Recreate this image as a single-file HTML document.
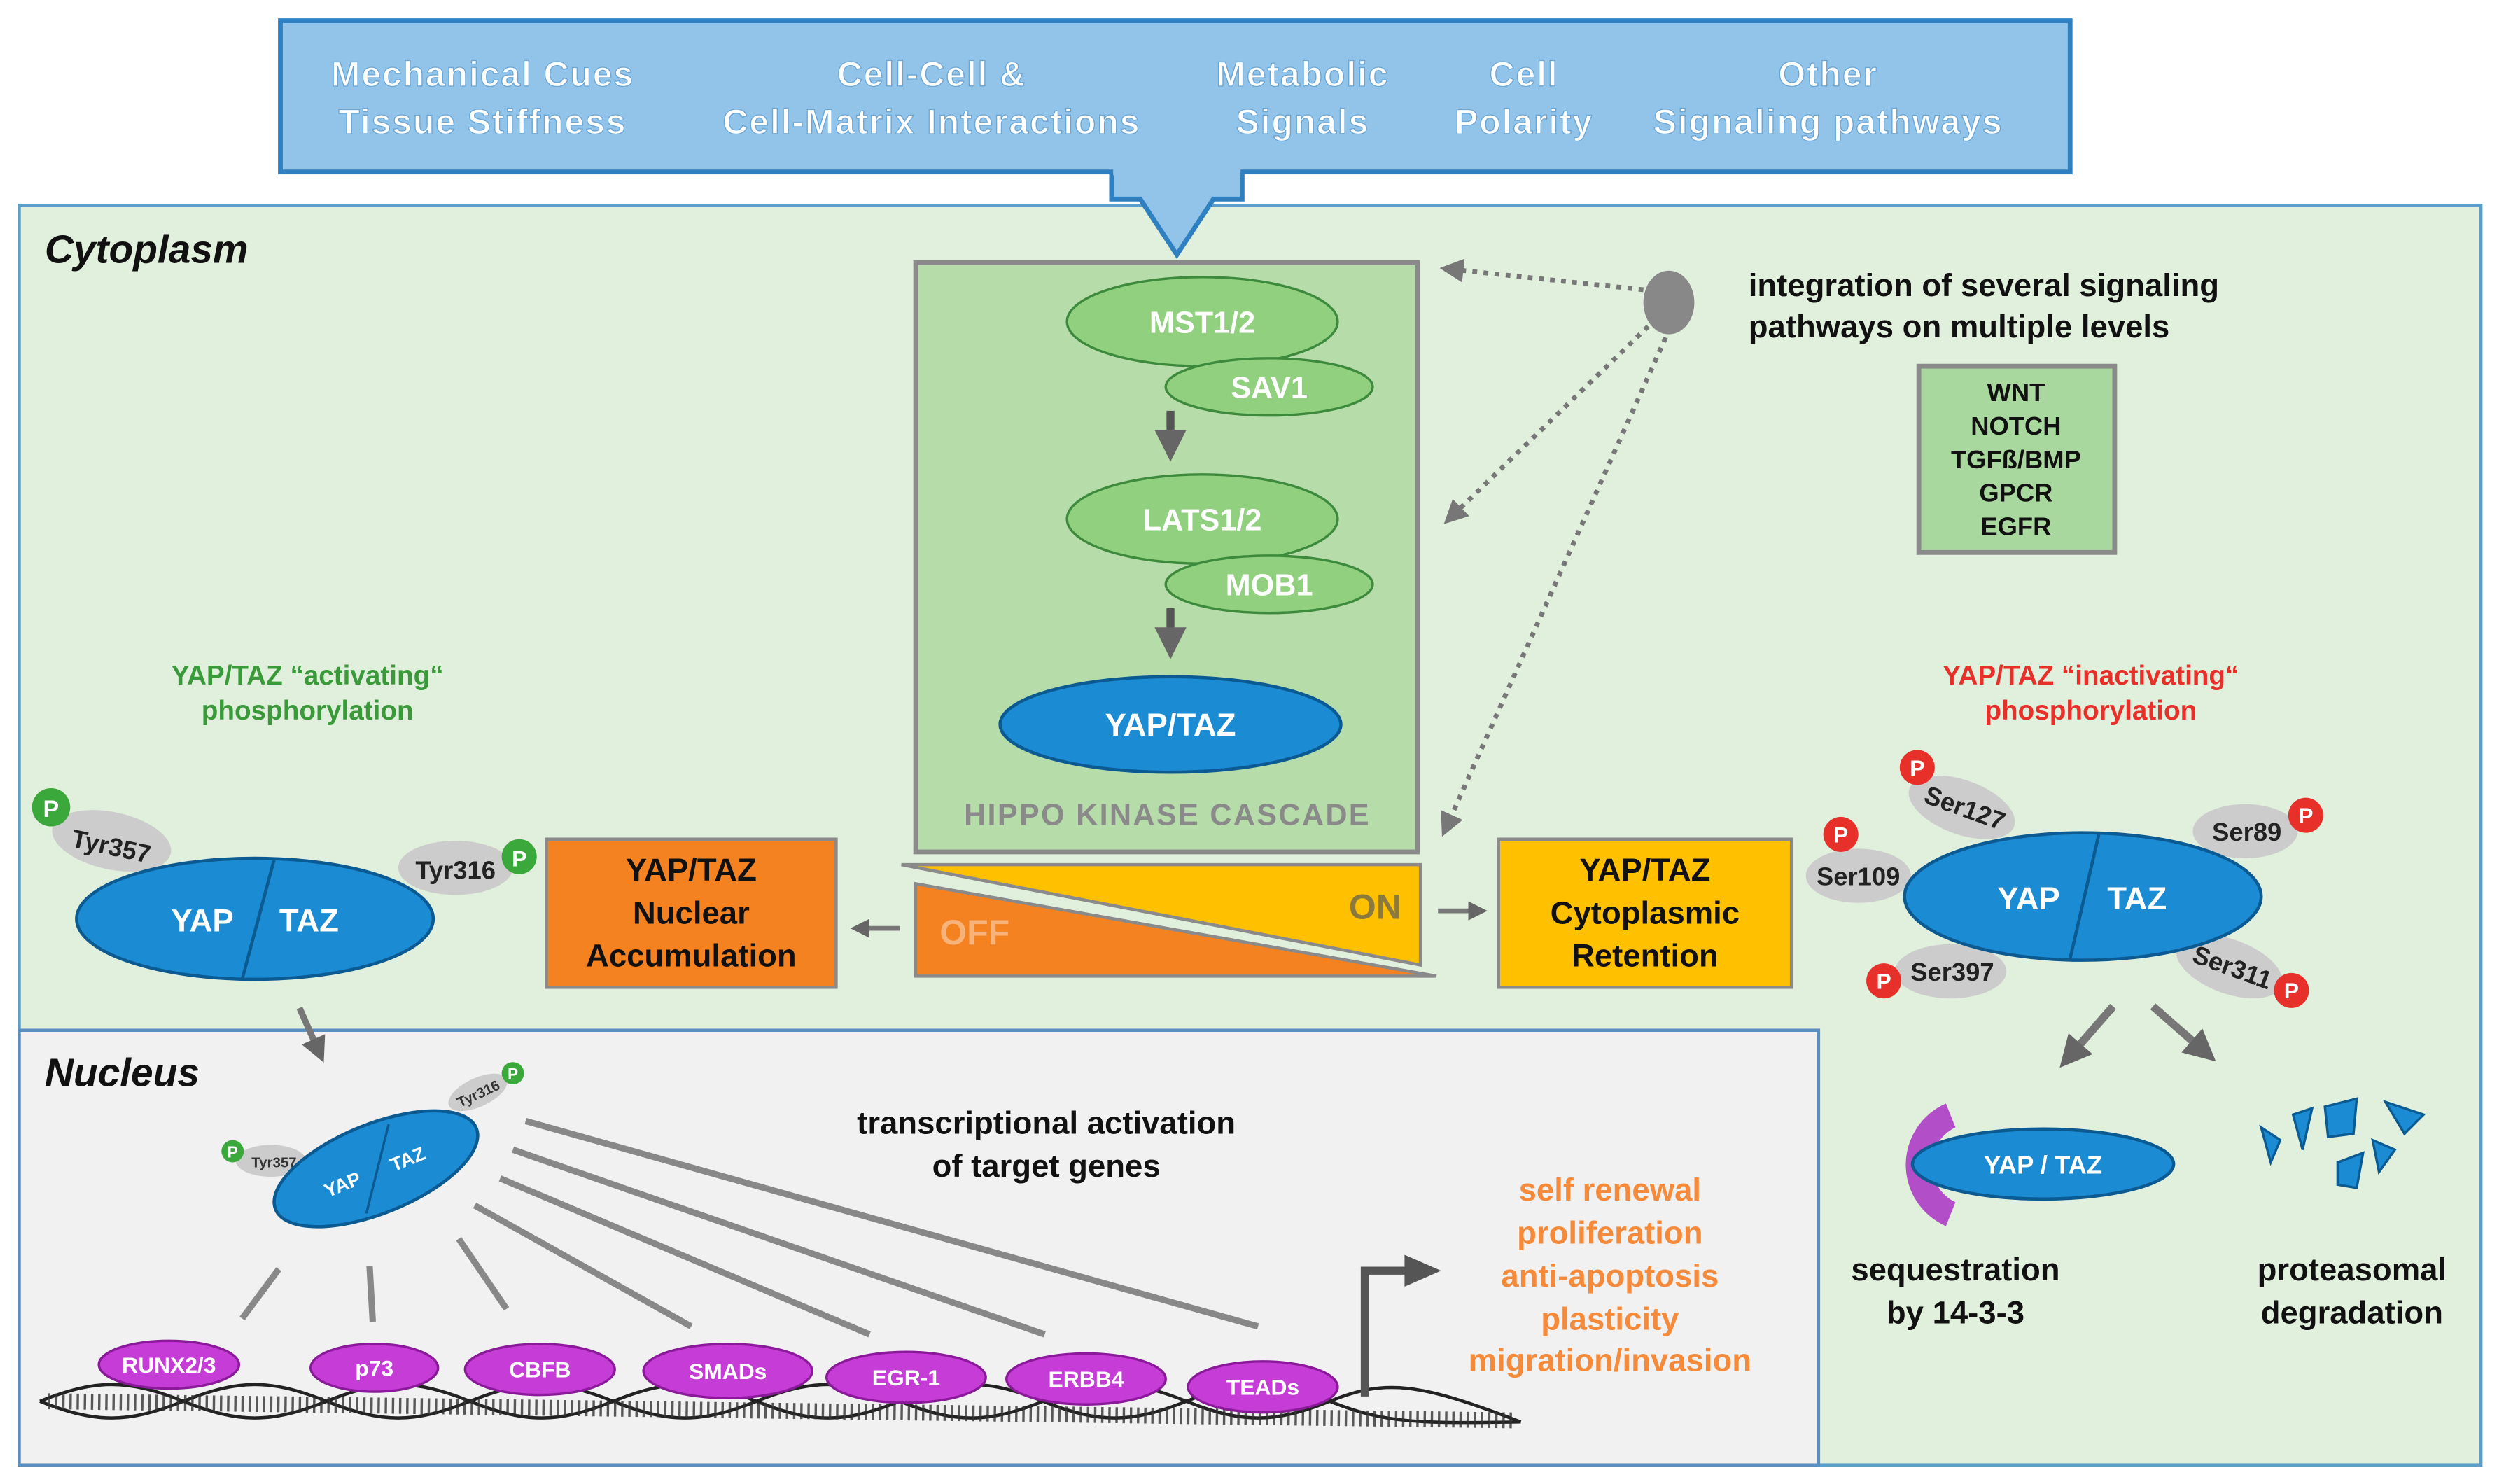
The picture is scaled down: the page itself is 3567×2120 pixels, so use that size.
<!DOCTYPE html>
<html><head><meta charset="utf-8"><style>
html,body{margin:0;padding:0;background:#fff}
svg{display:block}
text{font-family:"Liberation Sans",Arial,sans-serif;font-weight:bold}
</style></head><body>
<svg width="3567" height="2120" viewBox="0 0 1568 932" xmlns="http://www.w3.org/2000/svg">
<defs>
<marker id="ag" markerWidth="4" markerHeight="4" refX="2" refY="2" orient="auto"><path d="M0,0 L4,2 L0,4 z" fill="#666"/></marker>
<marker id="ad" markerWidth="5" markerHeight="5" refX="3" refY="2.5" orient="auto"><path d="M0,0 L5,2.5 L0,5 z" fill="#777"/></marker>
</defs>
<rect x="12" y="129" width="1546" height="791" fill="#e1f0dc" stroke="#5b9ec9" stroke-width="2"/>
<rect x="12" y="647" width="1130" height="273" fill="#f1f1f1" stroke="#5b8fc2" stroke-width="2"/>
<rect x="176" y="13" width="1124" height="95" fill="#92c4ea" stroke="#2f80c0" stroke-width="3"/>
<path d="M698,108 L698,125 L716,125 L739,160 L762,125 L780,125 L780,108" fill="#92c4ea" stroke="#2f80c0" stroke-width="3"/>
<rect x="699" y="104" width="80" height="6" fill="#92c4ea"/>
<g fill="#fff" font-size="22" text-anchor="middle" letter-spacing="0.8" stroke="#6aa6d6" stroke-width="0.6">
<text x="303" y="54">Mechanical Cues</text><text x="303" y="84">Tissue Stiffness</text>
<text x="585" y="54">Cell-Cell &amp;</text><text x="585" y="84">Cell-Matrix Interactions</text>
<text x="818" y="54">Metabolic</text><text x="818" y="84">Signals</text>
<text x="957" y="54">Cell</text><text x="957" y="84">Polarity</text>
<text x="1148" y="54">Other</text><text x="1148" y="84">Signaling pathways</text>
</g>
<text x="28" y="165" font-size="25" font-style="italic" fill="#111">Cytoplasm</text>
<text x="28" y="682" font-size="25" font-style="italic" fill="#111">Nucleus</text>
<rect x="575" y="165" width="315" height="370" fill="#b6dcaa" stroke="#8a8a8a" stroke-width="3"/>
<g stroke="#3d8a3d" stroke-width="1.5" fill="#90d07f">
<ellipse cx="755" cy="202" rx="85" ry="28"/><ellipse cx="797" cy="243" rx="65" ry="18"/>
<ellipse cx="755" cy="326" rx="85" ry="28"/><ellipse cx="797" cy="367" rx="65" ry="18"/>
</g>
<g fill="#fff" font-size="19" text-anchor="middle">
<text x="755" y="209">MST1/2</text><text x="797" y="250">SAV1</text>
<text x="755" y="333">LATS1/2</text><text x="797" y="374">MOB1</text>
</g>
<path d="M735,258 L735,280" stroke="#555" stroke-width="5" marker-end="url(#ag)"/>
<path d="M735,382 L735,404" stroke="#555" stroke-width="5" marker-end="url(#ag)"/>
<ellipse cx="735" cy="455" rx="107" ry="30" fill="#1b8bd3" stroke="#0b5a92" stroke-width="2"/>
<text x="735" y="462" fill="#fff" font-size="20" text-anchor="middle">YAP/TAZ</text>
<text x="733" y="518" fill="#8a8a8a" font-size="19" text-anchor="middle" letter-spacing="1">HIPPO KINASE CASCADE</text>
<ellipse cx="1048" cy="190" rx="16" ry="20" fill="#888"/>
<g stroke="#777" stroke-width="3" stroke-dasharray="3,4" fill="none" marker-end="url(#ad)">
<path d="M1032,182 L910,169"/><path d="M1035,205 L911,325"/><path d="M1046,212 L908,520"/>
</g>
<text x="1098" y="186" font-size="20" fill="#111">integration of several signaling</text>
<text x="1098" y="212" font-size="20" fill="#111">pathways on multiple levels</text>
<rect x="1205" y="230" width="123" height="117" fill="#a9d89e" stroke="#8a8a8a" stroke-width="3"/>
<g font-size="16" text-anchor="middle" fill="#111">
<text x="1266" y="252">WNT</text><text x="1266" y="273">NOTCH</text><text x="1266" y="294">TGFß/BMP</text><text x="1266" y="315">GPCR</text><text x="1266" y="336">EGFR</text>
</g>
<path d="M566,543 L892,543 L892,606 Z" fill="#ffc000" stroke="#8a8a8a" stroke-width="2"/>
<path d="M575,555 L575,613 L902,613 Z" fill="#f58220" stroke="#8a8a8a" stroke-width="2"/>
<text x="590" y="593" font-size="22" fill="#f8b37a">OFF</text>
<text x="847" y="577" font-size="22" fill="#8a7a40">ON</text>
<rect x="343" y="527" width="182" height="93" fill="#f58220" stroke="#8a8a8a" stroke-width="2"/>
<g font-size="20" text-anchor="middle" fill="#111"><text x="434" y="553">YAP/TAZ</text><text x="434" y="580">Nuclear</text><text x="434" y="607">Accumulation</text></g>
<rect x="941" y="527" width="184" height="93" fill="#ffc000" stroke="#8a8a8a" stroke-width="2"/>
<g font-size="20" text-anchor="middle" fill="#111"><text x="1033" y="553">YAP/TAZ</text><text x="1033" y="580">Cytoplasmic</text><text x="1033" y="607">Retention</text></g>
<path d="M565,583 L540,583" stroke="#777" stroke-width="3" marker-end="url(#ag)"/>
<path d="M903,572 L928,572" stroke="#777" stroke-width="3" marker-end="url(#ag)"/>
<text x="193" y="430" font-size="17" fill="#3a9a3a" text-anchor="middle">YAP/TAZ “activating“</text>
<text x="193" y="452" font-size="17" fill="#3a9a3a" text-anchor="middle">phosphorylation</text>
<ellipse cx="70" cy="528" rx="38" ry="18" fill="#ccc" transform="rotate(12 70 528)"/>
<ellipse cx="286" cy="545" rx="36" ry="17" fill="#ccc"/>
<ellipse cx="160" cy="577" rx="112" ry="38" fill="#1b8bd3" stroke="#0b5a92" stroke-width="2"/>
<path d="M172,540 L152,615" stroke="#0b5a92" stroke-width="2"/>
<text x="127" y="585" font-size="20" fill="#fff" text-anchor="middle">YAP</text>
<text x="194" y="585" font-size="20" fill="#fff" text-anchor="middle">TAZ</text>
<text x="70" y="537" font-size="16" fill="#222" font-weight="normal" text-anchor="middle" transform="rotate(12 70 530)">Tyr357</text>
<text x="286" y="552" font-size="16" fill="#222" font-weight="normal" text-anchor="middle">Tyr316</text>
<circle cx="32" cy="507" r="12" fill="#3aa83a"/><text x="32" y="513" font-size="15" fill="#fff" text-anchor="middle">P</text>
<circle cx="326" cy="538" r="11" fill="#3aa83a"/><text x="326" y="544" font-size="14" fill="#fff" text-anchor="middle">P</text>
<path d="M188,633 L200,660" stroke="#777" stroke-width="4" marker-end="url(#ag)"/>
<text x="1313" y="430" font-size="17" fill="#e8302a" text-anchor="middle">YAP/TAZ “inactivating“</text>
<text x="1313" y="452" font-size="17" fill="#e8302a" text-anchor="middle">phosphorylation</text>
<g fill="#ccc">
<ellipse cx="1232" cy="507" rx="35" ry="17" transform="rotate(20 1232 507)"/>
<ellipse cx="1167" cy="550" rx="33" ry="17"/>
<ellipse cx="1410" cy="522" rx="33" ry="17"/>
<ellipse cx="1225" cy="610" rx="35" ry="17"/>
<ellipse cx="1400" cy="607" rx="35" ry="17" transform="rotate(20 1400 607)"/>
</g>
<ellipse cx="1308" cy="563" rx="112" ry="40" fill="#1b8bd3" stroke="#0b5a92" stroke-width="2"/>
<path d="M1318,524 L1300,602" stroke="#0b5a92" stroke-width="2"/>
<text x="1274" y="571" font-size="20" fill="#fff" text-anchor="middle">YAP</text>
<text x="1342" y="571" font-size="20" fill="#fff" text-anchor="middle">TAZ</text>
<g font-size="16" fill="#222" font-weight="normal" text-anchor="middle">
<text x="1234" y="513" transform="rotate(20 1234 507)">Ser127</text>
<text x="1167" y="556">Ser109</text>
<text x="1411" y="528">Ser89</text>
<text x="1226" y="616">Ser397</text>
<text x="1402" y="613" transform="rotate(20 1402 607)">Ser311</text>
</g>
<g fill="#e8302a">
<circle cx="1204" cy="482" r="11"/><circle cx="1156" cy="524" r="11"/><circle cx="1448" cy="512" r="11"/><circle cx="1183" cy="616" r="11"/><circle cx="1439" cy="622" r="11"/>
</g>
<g font-size="14" fill="#fff" text-anchor="middle">
<text x="1204" y="487">P</text><text x="1156" y="529">P</text><text x="1448" y="517">P</text><text x="1183" y="621">P</text><text x="1439" y="627">P</text>
</g>
<path d="M1327,632 L1300,663" stroke="#777" stroke-width="5" marker-end="url(#ag)"/>
<path d="M1352,632 L1384,660" stroke="#777" stroke-width="5" marker-end="url(#ag)"/>
<path d="M1222,693 A42,42 0 0 0 1222,770 L1228,755 A26,26 0 0 1 1228,708 Z" fill="#b24fc8"/>
<ellipse cx="1283" cy="731" rx="82" ry="22" fill="#1b8bd3" stroke="#0b5a92" stroke-width="2"/>
<text x="1283" y="737" font-size="16" fill="#fff" text-anchor="middle">YAP / TAZ</text>
<text x="1228" y="804" font-size="20" fill="#111" text-anchor="middle">sequestration</text>
<text x="1228" y="831" font-size="20" fill="#111" text-anchor="middle">by 14-3-3</text>
<g fill="#1b8bd3" stroke="#0b5a92" stroke-width="1.5">
<path d="M1420,708 L1432,716 L1426,730 Z"/><path d="M1440,700 L1452,696 L1446,722 Z"/>
<path d="M1460,695 L1480,690 L1478,712 L1462,714 Z"/><path d="M1498,692 L1522,700 L1510,712 Z"/>
<path d="M1468,730 L1484,724 L1480,746 L1468,744 Z"/><path d="M1490,716 L1504,722 L1494,736 Z"/>
</g>
<text x="1477" y="804" font-size="20" fill="#111" text-anchor="middle">proteasomal</text>
<text x="1477" y="831" font-size="20" fill="#111" text-anchor="middle">degradation</text>
<ellipse cx="170" cy="729" rx="22" ry="10" fill="#ccc"/>
<ellipse cx="300" cy="686" rx="20" ry="9" fill="#ccc" transform="rotate(-25 300 686)"/>
<ellipse cx="236" cy="734" rx="68" ry="28" fill="#1b8bd3" stroke="#0b5a92" stroke-width="2" transform="rotate(-22 236 734)"/>
<path d="M244,706 L230,762" stroke="#0b5a92" stroke-width="1.5"/>
<text x="215" y="748" font-size="12" fill="#fff" text-anchor="middle" transform="rotate(-22 215 744)">YAP</text>
<text x="256" y="732" font-size="12" fill="#fff" text-anchor="middle" transform="rotate(-22 256 728)">TAZ</text>
<text x="172" y="733" font-size="9" fill="#333" font-weight="normal" text-anchor="middle">Tyr357</text>
<text x="300" y="690" font-size="9" fill="#333" font-weight="normal" text-anchor="middle" transform="rotate(-25 300 686)">Tyr316</text>
<circle cx="146" cy="723" r="7" fill="#3aa83a"/><circle cx="322" cy="674" r="7" fill="#3aa83a"/>
<text x="146" y="727" font-size="10" fill="#fff" text-anchor="middle">P</text><text x="322" y="678" font-size="10" fill="#fff" text-anchor="middle">P</text>
<text x="657" y="712" font-size="20" fill="#111" text-anchor="middle">transcriptional activation</text>
<text x="657" y="739" font-size="20" fill="#111" text-anchor="middle">of target genes</text>
<g stroke="#888" stroke-width="4">
<path d="M175,797 L152,828"/><path d="M232,795 L234,830"/><path d="M288,778 L318,822"/><path d="M298,757 L434,833"/>
<path d="M314,740 L546,838"/><path d="M322,722 L656,838"/><path d="M330,704 L790,833"/>
</g>
<g fill="none" stroke="#222" stroke-width="2">
<path d="M25,880 C60,866 80,866 115,880 S170,894 205,880 S260,866 295,880 S350,894 385,880 S440,866 475,880 S530,894 565,880 S620,866 655,880 S710,894 745,880 S800,866 835,880 S890,894 955,893"/>
<path d="M25,880 C60,894 80,894 115,880 S170,866 205,880 S260,894 295,880 S350,866 385,880 S440,894 475,880 S530,866 565,880 S620,894 655,880 S710,866 745,880 S800,894 835,880 S890,868 955,893"/>
</g>
<path d="M30,880 L950,892" stroke="#333" stroke-width="10" stroke-dasharray="1.5,3" opacity="0.8"/>
<g fill="#c63cd6" stroke="#8a1a9a" stroke-width="1.5">
<ellipse cx="106" cy="857" rx="44" ry="15"/><ellipse cx="235" cy="859" rx="40" ry="15"/><ellipse cx="339" cy="860" rx="47" ry="16"/>
<ellipse cx="457" cy="861" rx="53" ry="17"/><ellipse cx="569" cy="865" rx="50" ry="16"/><ellipse cx="682" cy="866" rx="50" ry="16"/><ellipse cx="793" cy="871" rx="47" ry="16"/>
</g>
<g font-size="14" fill="#fff" text-anchor="middle">
<text x="106" y="862">RUNX2/3</text><text x="235" y="864">p73</text><text x="339" y="865">CBFB</text><text x="457" y="866">SMADs</text>
<text x="569" y="870">EGR-1</text><text x="682" y="871">ERBB4</text><text x="793" y="876">TEADs</text>
</g>
<path d="M857,877 L857,798 L885,798" stroke="#555" stroke-width="5" fill="none"/>
<path d="M882,788 L905,798 L882,808 Z" fill="#555"/>
<g font-size="20" fill="#f58a3a" text-anchor="middle">
<text x="1011" y="754">self renewal</text><text x="1011" y="781">proliferation</text><text x="1011" y="808">anti-apoptosis</text><text x="1011" y="835">plasticity</text><text x="1011" y="861">migration/invasion</text>
</g>
</svg>
</body></html>
